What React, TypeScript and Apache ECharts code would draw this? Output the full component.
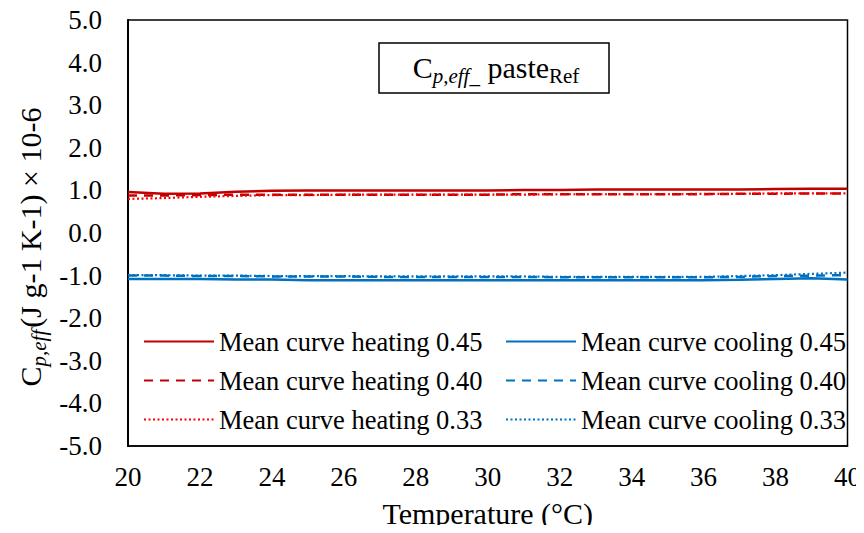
import React, { useEffect, useRef } from "react";
import * as echarts from "echarts";

// Temperature sample points (°C)
const temps = [20, 21, 22, 23, 24, 25, 26, 27, 28, 29, 30, 31, 32, 33, 34, 35, 36, 37, 38, 39, 40];

// Mean effective heat capacity curves (× 10-6)
const heating045 = [0.96, 0.92, 0.93, 0.97, 0.99, 1.0, 1.0, 1.0, 1.0, 1.0, 1.0, 1.01, 1.01, 1.02, 1.02, 1.02, 1.02, 1.02, 1.03, 1.04, 1.04];
const heating040 = [0.88, 0.88, 0.89, 0.9, 0.9, 0.9, 0.9, 0.9, 0.9, 0.9, 0.9, 0.91, 0.91, 0.91, 0.91, 0.91, 0.91, 0.92, 0.92, 0.93, 0.93];
const heating033 = [0.8, 0.82, 0.85, 0.87, 0.89, 0.89, 0.9, 0.9, 0.9, 0.9, 0.9, 0.9, 0.91, 0.91, 0.91, 0.91, 0.92, 0.92, 0.93, 0.93, 0.93];
const cooling045 = [-1.08, -1.08, -1.08, -1.09, -1.09, -1.11, -1.11, -1.11, -1.11, -1.11, -1.11, -1.11, -1.11, -1.11, -1.11, -1.11, -1.11, -1.1, -1.08, -1.06, -1.09];
const cooling040 = [-1.0, -1.0, -1.01, -1.01, -1.02, -1.02, -1.02, -1.03, -1.03, -1.03, -1.03, -1.03, -1.04, -1.04, -1.04, -1.04, -1.04, -1.03, -1.01, -1.0, -0.99];
const cooling033 = [-0.99, -0.99, -1.0, -1.0, -1.01, -1.01, -1.01, -1.02, -1.02, -1.02, -1.02, -1.02, -1.03, -1.03, -1.03, -1.03, -1.03, -1.01, -0.99, -0.96, -0.93];

const yTicks = [-5, -4, -3, -2, -1, 0, 1, 2, 3, 4, 5];

const seriesNames = [
  "Mean curve heating 0.45",
  "Mean curve heating 0.40",
  "Mean curve heating 0.33",
  "Mean curve cooling 0.45",
  "Mean curve cooling 0.40",
  "Mean curve cooling 0.33",
];

const DARK_RED = "#C00000";
const RED = "#FF0000";
const BLUE = "#0070C0";
const FONT = "Liberation Serif";

const pairs = (ys: number[]) => temps.map((t, i) => [t, ys[i]]);

export default function App() {
  const ref = useRef<HTMLDivElement>(null);

  useEffect(() => {
    if (!ref.current) return;
    const chart = echarts.init(ref.current, undefined, { renderer: "svg" });

    const line = (name: string, ys: number[], color: string, type: any, width: number) => ({
      name,
      type: "line",
      data: pairs(ys),
      showSymbol: false,
      symbol: "none",
      smooth: false,
      lineStyle: { color, type, width },
      itemStyle: { color },
    });

    const legendText = { fontFamily: FONT, fontSize: 26.5, color: "#000", lineHeight: 27 };
    const legendBase = {
      orient: "vertical",
      top: 323,
      itemWidth: 70,
      itemHeight: 14,
      itemGap: 12,
      textStyle: legendText,
      itemStyle: { opacity: 0 },
    };

    chart.setOption({
      animation: false,
      backgroundColor: "#fff",
      grid: {
        left: 128,
        right: 15,
        top: 20,
        bottom: 87,
        show: true,
        borderColor: "#000",
        borderWidth: 1.5,
        backgroundColor: "transparent",
      },
      xAxis: {
        type: "value",
        min: 20,
        max: 40,
        interval: 2,
        name: "Temperature (°C)",
        nameLocation: "middle",
        nameGap: 52,
        nameTextStyle: { fontFamily: FONT, fontSize: 30, color: "#000" },
        axisLine: { show: true, onZero: false, lineStyle: { color: "#000", width: 1.5 } },
        axisTick: { show: false },
        splitLine: { show: false },
        axisLabel: { fontFamily: FONT, fontSize: 27, color: "#000", margin: 17 },
      },
      yAxis: {
        type: "value",
        min: yTicks[0],
        max: yTicks[yTicks.length - 1],
        interval: 1,
        axisLine: { show: true, onZero: false, lineStyle: { color: "#000", width: 2 } },
        axisTick: { show: false },
        splitLine: { show: false },
        axisLabel: {
          fontFamily: FONT,
          fontSize: 27,
          color: "#000",
          margin: 26,
          formatter: (v: number) => v.toFixed(1),
        },
      },
      legend: [
        { ...legendBase, left: 138, data: seriesNames.slice(0, 3) },
        { ...legendBase, left: 500, data: seriesNames.slice(3) },
      ],
      graphic: [
        {
          type: "text",
          x: 30,
          y: 247,
          rotation: Math.PI / 2,
          style: {
            x: 0,
            y: 0,
            align: "center",
            verticalAlign: "middle",
            text: "{m|C}{s|p,eff}{m|(J g-1 K-1) × 10-6}",
            rich: {
              m: { fontFamily: FONT, fontSize: 30, fill: "#000", lineHeight: 38, verticalAlign: "middle" },
              s: { fontFamily: FONT, fontSize: 21, fontStyle: "italic", fill: "#000", lineHeight: 38, verticalAlign: "bottom", padding: [0, 2, 0, 0] },
            },
          },
        },
        {
          type: "rect",
          shape: { x: 379, y: 43, width: 230, height: 50 },
          style: { fill: "#fff", stroke: "#000", lineWidth: 1.5 },
          z: 10,
        },
        {
          type: "text",
          x: 496,
          y: 67,
          z: 11,
          style: {
            align: "center",
            verticalAlign: "middle",
            text: "{m|C}{s|p,eff_}{m| paste}{r|Ref}",
            rich: {
              m: { fontFamily: FONT, fontSize: 30, fill: "#000", lineHeight: 38, verticalAlign: "middle" },
              s: { fontFamily: FONT, fontSize: 21, fontStyle: "italic", fill: "#000", lineHeight: 38, verticalAlign: "bottom" },
              r: { fontFamily: FONT, fontSize: 21, fill: "#000", lineHeight: 38, verticalAlign: "bottom" },
            },
          },
        },
      ],
      series: [
        line(seriesNames[0], heating045, DARK_RED, "solid", 2.5),
        line(seriesNames[1], heating040, DARK_RED, [9, 7], 2.5),
        line(seriesNames[2], heating033, RED, [2, 2.5], 2.2),
        line(seriesNames[3], cooling045, BLUE, "solid", 2.5),
        line(seriesNames[4], cooling040, BLUE, [9, 7], 2.5),
        line(seriesNames[5], cooling033, BLUE, [2, 2.5], 2.2),
      ],
    });

    return () => chart.dispose();
  }, []);

  return <div ref={ref} style={{ width: 864, height: 533, margin: -8 }} />;
}
